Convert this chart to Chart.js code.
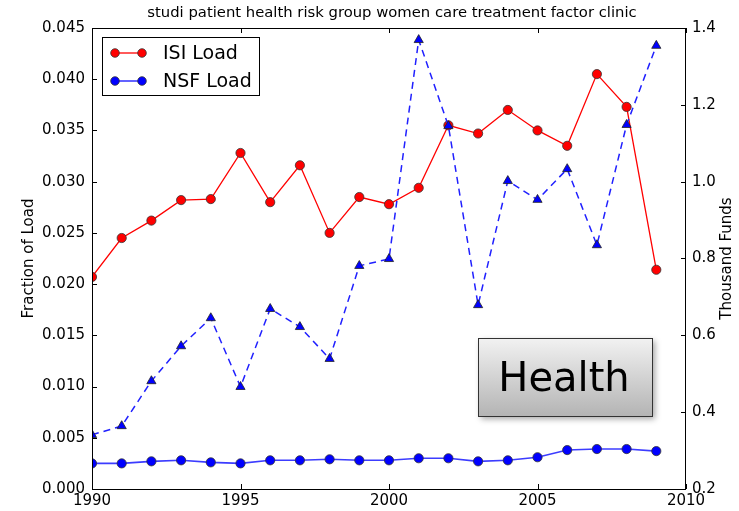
<!DOCTYPE html>
<html>
<head>
<meta charset="utf-8">
<script src="https://cdn.jsdelivr.net/npm/chart.js@4.4.1/dist/chart.umd.min.js"></script>
<style>
  html, body { margin:0; padding:0; background:#fff; }
  #wrap { width:739px; height:511px; position:relative; }
</style>
</head>
<body>
<div id="wrap"><canvas id="chart" width="739" height="511"></canvas></div>
<script>
// data
const years = [1990,1991,1992,1993,1994,1995,1996,1997,1998,1999,2000,2001,2002,2003,2004,2005,2006,2007,2008,2009];
const isiLoad = [0.0207,0.0245,0.0262,0.0282,0.0283,0.0328,0.0280,0.0316,0.0250,0.0285,0.0278,0.0294,0.0355,0.0347,0.0370,0.0350,0.0335,0.0405,0.0373,0.0214];
const nsfLoad = [0.0025,0.0025,0.0027,0.0028,0.0026,0.0025,0.0028,0.0028,0.0029,0.0028,0.0028,0.0030,0.0030,0.0027,0.0028,0.0031,0.0038,0.0039,0.0039,0.0037];
const thousandFunds = [0.341,0.364,0.481,0.572,0.645,0.466,0.669,0.622,0.539,0.781,0.799,1.369,1.145,0.679,1.002,0.953,1.033,0.835,1.148,1.354];
const chartTitle = 'studi patient health risk group women care treatment factor clinic';
const boxText = 'Health';
const legendNames = ['ISI Load', 'NSF Load'];

const FONT = '"DejaVu Sans", sans-serif';
const pts = arr => arr.map((v,i) => ({ x: years[i], y: v }));

// draws frame, inward ticks, title, axis labels, legend and the text box
const decor = {
  id: 'decor',
  afterDatasetsDraw(chart){
    const { ctx, chartArea: a, scales } = chart;
    ctx.save();
    ctx.strokeStyle = '#000'; ctx.lineWidth = 1;
    ctx.strokeRect(Math.round(a.left)+0.5, Math.round(a.top)+0.5, Math.round(a.right-a.left)-1, Math.round(a.bottom-a.top));
    const TL = 5;
    ctx.beginPath();
    scales.x.ticks.forEach(t => {
      const px = Math.round(scales.x.getPixelForValue(t.value)) + 0.5;
      ctx.moveTo(px, a.bottom); ctx.lineTo(px, a.bottom - TL);
      ctx.moveTo(px, a.top); ctx.lineTo(px, a.top + TL);
    });
    scales.y.ticks.forEach(t => {
      const py = Math.round(scales.y.getPixelForValue(t.value)) + 0.5;
      ctx.moveTo(a.left, py); ctx.lineTo(a.left + TL, py);
    });
    scales.y2.ticks.forEach(t => {
      const py = Math.round(scales.y2.getPixelForValue(t.value)) + 0.5;
      ctx.moveTo(a.right, py); ctx.lineTo(a.right - TL, py);
    });
    ctx.stroke();

    // title
    ctx.fillStyle = '#000';
    ctx.font = '14.8px ' + FONT;
    ctx.textAlign = 'center'; ctx.textBaseline = 'middle';
    ctx.fillText(chartTitle, (a.left + a.right)/2 + 3, 13);

    // axis labels, both read bottom-to-top
    ctx.font = '15px ' + FONT;
    const mid = (a.top + a.bottom)/2;
    ctx.save(); ctx.translate(29, mid); ctx.rotate(-Math.PI/2); ctx.fillText('Fraction of Load', 0, 0); ctx.restore();
    ctx.save(); ctx.translate(727, mid); ctx.rotate(-Math.PI/2); ctx.fillText('Thousand Funds', 0, 0); ctx.restore();

    // legend
    const lx = 102, ly = 37, lw = 157, lh = 58;
    ctx.fillStyle = '#fff'; ctx.fillRect(lx, ly, lw, lh);
    ctx.strokeStyle = '#000'; ctx.lineWidth = 1;
    ctx.strokeRect(lx+0.5, ly+0.5, lw, lh);
    const ds = chart.data.datasets;
    [0,1].forEach(i => {
      const yy = ly + 16 + i*28;
      ctx.strokeStyle = ds[i].borderColor; ctx.lineWidth = ds[i].borderWidth;
      ctx.beginPath(); ctx.moveTo(115, yy); ctx.lineTo(142, yy); ctx.stroke();
      [115,142].forEach(cx => {
        ctx.beginPath(); ctx.arc(cx, yy, 4.3, 0, Math.PI*2);
        ctx.fillStyle = ds[i].pointBackgroundColor; ctx.fill();
        ctx.strokeStyle = '#333'; ctx.lineWidth = 0.8; ctx.stroke();
      });
      ctx.fillStyle = '#000'; ctx.font = '19px ' + FONT;
      ctx.textAlign = 'left';
      ctx.fillText(legendNames[i], 163, yy + 1);
    });

    // text box with gradient and shadow
    const bx = 478, by = 338, bw = 174, bh = 78;
    ctx.save();
    ctx.shadowColor = 'rgba(0,0,0,0.35)'; ctx.shadowBlur = 6; ctx.shadowOffsetX = 3; ctx.shadowOffsetY = 3;
    const g = ctx.createLinearGradient(0, by, 0, by + bh);
    g.addColorStop(0, '#f2f2f2'); g.addColorStop(1, '#b4b4b4');
    ctx.fillStyle = g; ctx.fillRect(bx, by, bw, bh);
    ctx.restore();
    ctx.strokeStyle = '#333'; ctx.lineWidth = 1;
    ctx.strokeRect(bx+0.5, by+0.5, bw, bh);
    ctx.fillStyle = '#000'; ctx.font = '40px ' + FONT; ctx.textAlign = 'center';
    ctx.fillText(boxText, bx + bw/2 - 1, by + bh/2 + 4);
    ctx.restore();
  }
};

new Chart(document.getElementById('chart'), {
  type: 'line',
  data: {
    datasets: [
      { label: legendNames[0], data: pts(isiLoad), yAxisID: 'y', order: 1,
        borderColor: '#ff0000', borderWidth: 1.3, pointBackgroundColor: '#ff0000',
        pointBorderColor: '#333', pointBorderWidth: 0.8, pointRadius: 4.6, clip: 0 },
      { label: legendNames[1], data: pts(nsfLoad), yAxisID: 'y', order: 2,
        borderColor: '#3c3cff', borderWidth: 1.6, pointBackgroundColor: '#0000ff',
        pointBorderColor: '#333', pointBorderWidth: 0.8, pointRadius: 4.6, clip: 0 },
      { label: 'Thousand Funds', data: pts(thousandFunds), yAxisID: 'y2', order: 0,
        borderColor: '#2020ff', borderWidth: 1.5, borderDash: [7,5], pointStyle: 'triangle',
        pointBackgroundColor: '#0000ff', pointBorderColor: '#222', pointBorderWidth: 0.8,
        pointRadius: 5.3, clip: 0 }
    ]
  },
  options: {
    responsive: false, animation: false,
    layout: { padding: { top: 28, left: 0, right: 0, bottom: 0 } },
    plugins: { legend: { display: false }, title: { display: false }, tooltip: { enabled: false } },
    elements: { line: { tension: 0 } },
    scales: {
      x: { type: 'linear', min: 1990, max: 2010,
        ticks: { stepSize: 5, color: '#000', font: { family: FONT, size: 15 }, padding: 3, maxRotation: 0,
          callback: v => String(v) },
        grid: { display: false, drawTicks: false }, border: { display: false },
        afterFit: s => { s.height = 22; } },
      y: { position: 'left', min: 0, max: 0.045,
        ticks: { stepSize: 0.005, color: '#000', font: { family: FONT, size: 15 }, padding: 7,
          callback: v => v.toFixed(3) },
        grid: { display: false, drawTicks: false }, border: { display: false },
        afterFit: s => { s.width = 92; } },
      y2: { position: 'right', min: 0.2, max: 1.4,
        ticks: { stepSize: 0.2, color: '#000', font: { family: FONT, size: 15 }, padding: 6,
          callback: v => v.toFixed(1) },
        grid: { display: false, drawTicks: false }, border: { display: false },
        afterFit: s => { s.width = 53; } }
    }
  },
  plugins: [decor]
});
</script>
</body>
</html>
